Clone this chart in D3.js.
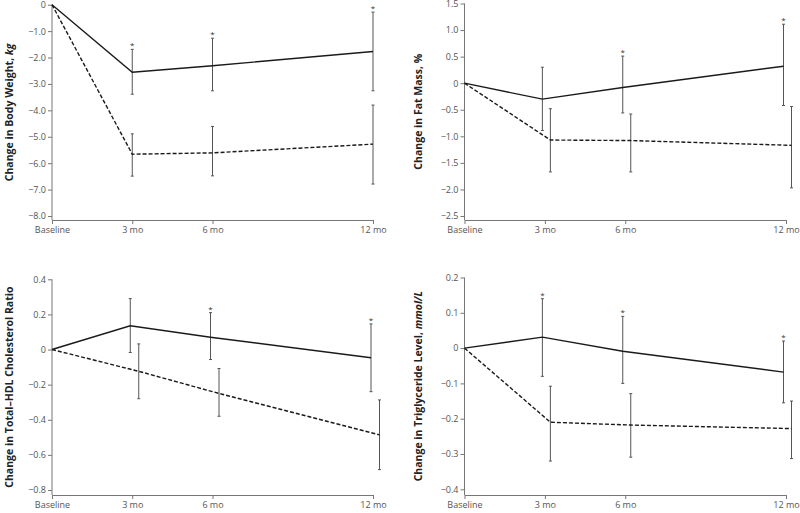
<!DOCTYPE html>
<html>
<head>
<meta charset="utf-8">
<script src="https://cdn.jsdelivr.net/npm/d3@7"></script>
<style>
  html, body { margin: 0; padding: 0; background: #fff; }
  svg { display: block; }
  text { font-family: "Open Sans", "Noto Sans", sans-serif; }
</style>
</head>
<body>
<svg id="chart" width="800" height="513"></svg>
<script>
// ---------- data ----------
const months = [0, 3, 6, 12];
const xTickLabels = ["Baseline", "3 mo", "6 mo", "12 mo"];

// Panel A: body weight (kg)
const weightTicks = [0, -1, -2, -3, -4, -5, -6, -7, -8];
const weightSolid = [0, -2.56, -2.31, -1.77];
const weightSolidUpper = [null, -1.69, -1.27, -0.28];
const weightSolidLower = [null, -3.39, -3.26, -3.26];
const weightDashed = [0, -5.66, -5.61, -5.28];
const weightDashedUpper = [null, -4.89, -4.61, -3.80];
const weightDashedLower = [null, -6.49, -6.48, -6.79];
const weightStars = [false, true, true, true];

// Panel B: fat mass (%)
const fatTicks = [1.5, 1.0, 0.5, 0, -0.5, -1.0, -1.5, -2.0, -2.5];
const fatSolid = [0, -0.30, -0.08, 0.32];
const fatSolidUpper = [null, 0.30, 0.51, 1.11];
const fatSolidLower = [null, -0.89, -0.56, -0.42];
const fatDashed = [0, -1.07, -1.08, -1.17];
const fatDashedUpper = [null, -0.48, -0.58, -0.44];
const fatDashedLower = [null, -1.67, -1.67, -1.97];
const fatStars = [false, false, true, true];

// Panel C: total-HDL cholesterol ratio
const cholTicks = [0.4, 0.2, 0, -0.2, -0.4, -0.6, -0.8];
const cholSolid = [0, 0.135, 0.07, -0.047];
const cholSolidUpper = [null, 0.29, 0.21, 0.146];
const cholSolidLower = [null, -0.017, -0.057, -0.24];
const cholDashed = [0, -0.124, -0.25, -0.486];
const cholDashedUpper = [null, 0.032, -0.108, -0.287];
const cholDashedLower = [null, -0.28, -0.38, -0.684];
const cholStars = [false, false, true, true];

// Panel D: triglyceride level (mmol/L)
const trigTicks = [0.2, 0.1, 0, -0.1, -0.2, -0.3, -0.4];
const trigSolid = [0, 0.031, -0.009, -0.068];
const trigSolidUpper = [null, 0.14, 0.09, 0.02];
const trigSolidLower = [null, -0.08, -0.10, -0.155];
const trigDashed = [0, -0.21, -0.218, -0.228];
const trigDashedUpper = [null, -0.108, -0.129, -0.15];
const trigDashedLower = [null, -0.32, -0.309, -0.313];
const trigStars = [false, true, true, true];

// ---------- layout ----------
const panels = [
  { title: ["Change in Body Weight, ", "kg"], ticks: weightTicks,
    solid: weightSolid, sU: weightSolidUpper, sL: weightSolidLower,
    dashed: weightDashed, dU: weightDashedUpper, dL: weightDashedLower, stars: weightStars,
    left: 52, right: 373, top: 4.7, bottom: 216, axisY: 220, titleX: 13, offS: 0, offD: 0 },
  { title: ["Change in Fat Mass, %", ""], ticks: fatTicks,
    solid: fatSolid, sU: fatSolidUpper, sL: fatSolidLower,
    dashed: fatDashed, dU: fatDashedUpper, dL: fatDashedLower, stars: fatStars,
    left: 464.5, right: 786, top: 3.5, bottom: 216, axisY: 220, titleX: 422, offS: -2.5, offD: 5.5 },
  { title: ["Change in Total\u2013HDL Cholesterol Ratio", ""], ticks: cholTicks,
    solid: cholSolid, sU: cholSolidUpper, sL: cholSolidLower,
    dashed: cholDashed, dU: cholDashedUpper, dL: cholDashedLower, stars: cholStars,
    left: 52, right: 373, top: 279.3, bottom: 490, axisY: 495, titleX: 13, offS: -2, offD: 6.5 },
  { title: ["Change in Triglyceride Level, ", "mmol/L"], ticks: trigTicks,
    solid: trigSolid, sU: trigSolidUpper, sL: trigSolidLower,
    dashed: trigDashed, dU: trigDashedUpper, dL: trigDashedLower, stars: trigStars,
    left: 464.5, right: 786, top: 277.5, bottom: 489.3, axisY: 495, titleX: 422, offS: -2.5, offD: 5.5 }
];

const svg = d3.select("#chart");
const fmt = v => v === 0 ? "0" : (v < 0 ? "\u2212" : "") + Math.abs(v).toFixed(1);
const axisColor = "#777";
const tickTextColor = "#555";

panels.forEach(p => {
  const g = svg.append("g");
  const x = d3.scaleLinear().domain([0, 12]).range([p.left, p.right]);
  const y = d3.scaleLinear().domain([d3.min(p.ticks), d3.max(p.ticks)]).range([p.bottom, p.top]);

  // y axis
  const ya = g.append("g").attr("transform", `translate(${p.left},0)`)
    .call(d3.axisLeft(y).tickValues(p.ticks).tickFormat(fmt).tickSize(4).tickSizeOuter(0).tickPadding(2));
  ya.select(".domain").remove();
  ya.selectAll(".tick line").attr("stroke", axisColor);
  ya.selectAll(".tick text").attr("fill", tickTextColor).style("font-size", "9px")
    .style("font-family", "'Open Sans', sans-serif");
  g.append("line").attr("x1", p.left).attr("x2", p.left)
    .attr("y1", y(d3.max(p.ticks))).attr("y2", p.axisY)
    .attr("stroke", axisColor).attr("stroke-width", 1);

  // x axis
  const xa = g.append("g").attr("transform", `translate(0,${p.axisY})`)
    .call(d3.axisBottom(x).tickValues(months).tickFormat((d, i) => xTickLabels[i]).tickSize(4).tickSizeOuter(0).tickPadding(3));
  xa.select(".domain").attr("stroke", axisColor);
  xa.selectAll(".tick line").attr("stroke", axisColor);
  xa.selectAll(".tick text").attr("fill", tickTextColor).style("font-size", "9px")
    .style("font-family", "'Open Sans', sans-serif");

  // title
  const cy = (y(d3.max(p.ticks)) + p.axisY) / 2;
  const t = g.append("text")
    .attr("transform", `translate(${p.titleX},${cy}) rotate(-90)`)
    .attr("text-anchor", "middle")
    .attr("fill", "#222")
    .style("font-size", "10.5px").style("font-weight", "bold");
  t.append("tspan").text(p.title[0]);
  if (p.title[1]) t.append("tspan").style("font-style", "italic").text(p.title[1]);

  const px = (i, off) => x(months[i]) + (i === 0 ? 0 : off);

  // error bars
  const drawErr = (U, L, off, color) => {
    months.forEach((m, i) => {
      if (U[i] === null) return;
      const xx = px(i, off);
      g.append("line").attr("x1", xx).attr("x2", xx).attr("y1", y(U[i])).attr("y2", y(L[i]))
        .attr("stroke", color).attr("stroke-width", 1);
      [U[i], L[i]].forEach(v => {
        g.append("line").attr("x1", xx - 1.5).attr("x2", xx + 1.5).attr("y1", y(v)).attr("y2", y(v))
          .attr("stroke", color).attr("stroke-width", 1);
      });
    });
  };
  drawErr(p.sU, p.sL, p.offS, "#555");
  drawErr(p.dU, p.dL, p.offD, "#555");

  // lines
  const line = off => d3.line().x((d, i) => px(i, off)).y(d => y(d));
  g.append("path").datum(p.solid).attr("d", line(p.offS))
    .attr("fill", "none").attr("stroke", "#1a1a1a").attr("stroke-width", 1.4);
  g.append("path").datum(p.dashed).attr("d", line(p.offD))
    .attr("fill", "none").attr("stroke", "#1a1a1a").attr("stroke-width", 1.4)
    .attr("stroke-dasharray", "4,2");

  // asterisks
  months.forEach((m, i) => {
    if (!p.stars[i]) return;
    g.append("text").attr("x", px(i, p.offS)).attr("y", y(p.sU[i]) - 1)
      .attr("text-anchor", "middle").attr("fill", "#333")
      .style("font-size", "8px").text("*");
  });
});
</script>
</body>
</html>
